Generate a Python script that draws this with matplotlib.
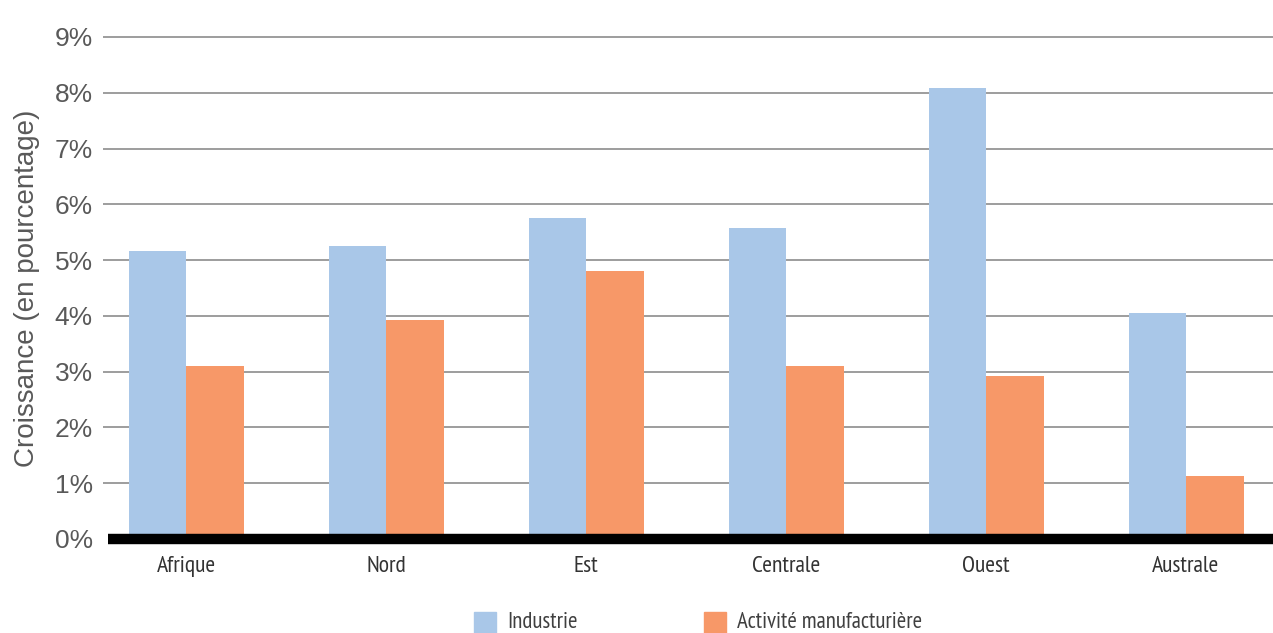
import matplotlib
matplotlib.use("Agg")
import matplotlib.pyplot as plt
import numpy as np
from matplotlib.patches import Rectangle

regions = ["Afrique", "Nord", "Est", "Centrale", "Ouest", "Australe"]
industrie = [5.16, 5.25, 5.75, 5.57, 8.08, 4.05]
manufacture = [3.10, 3.92, 4.80, 3.10, 2.92, 1.13]
series_names = ["Industrie", "Activité manufacturière"]
yticks = list(range(0, 10))

BLUE = "#A9C7E8"
ORANGE = "#F79868"
GREY = "#595959"

narrow = ["PT Sans Narrow", "Fira Sans Extra Condensed", "Fira Sans Condensed", "DejaVu Sans"]
sans = ["Liberation Sans", "DejaVu Sans"]

fig = plt.figure(figsize=(12.73, 6.33), dpi=100)
ax = fig.add_axes([108 / 1273, 1 - 539 / 633, 1 - 108 / 1273, (539 - 37) / 633])

x = np.arange(len(regions))
w = 0.2875
ax.bar(x - w / 2, industrie, width=w, color=BLUE, zorder=3)
ax.bar(x + w / 2, manufacture, width=w, color=ORANGE, zorder=3)

ax.set_xlim(-0.39, 5.435)
ax.set_ylim(0, 9)

for t in yticks[1:]:
    ax.axhline(t, xmin=-0.004, xmax=1, color="#8c8c8c", lw=1.2, zorder=1,
               clip_on=False, solid_capstyle="butt")
ax.axhline(0, color="black", lw=7.5, zorder=4, clip_on=False, solid_capstyle="butt")

for s in ax.spines.values():
    s.set_visible(False)

ax.set_yticks(yticks)
ax.set_yticklabels([f"{t}%" for t in yticks], fontsize=19, color=GREY, family=sans)
ax.tick_params(axis="y", length=0, pad=11)
ax.set_xticks(x)
ax.set_xticklabels(regions, fontsize=17, color="#333333", family=narrow)
ax.tick_params(axis="x", length=0, pad=12)

ax.set_ylabel("Croissance (en pourcentage)", fontsize=20, color=GREY, family=sans)
ax.yaxis.set_label_coords(-0.058, 0.5)

# legend drawn manually below the axes
legend_items = [(474, BLUE, series_names[0]), (704, ORANGE, series_names[1])]
for px, col, label in legend_items:
    fig.patches.append(Rectangle((px / 1273, 0), 22 / 1273, 21 / 633,
                                 transform=fig.transFigure, color=col))
    fig.text((px + 33) / 1273, 1 - 623 / 633, label, fontsize=16.5, color="#404040",
             family=narrow, va="center", ha="left")

fig.savefig("out.png", dpi=100)
